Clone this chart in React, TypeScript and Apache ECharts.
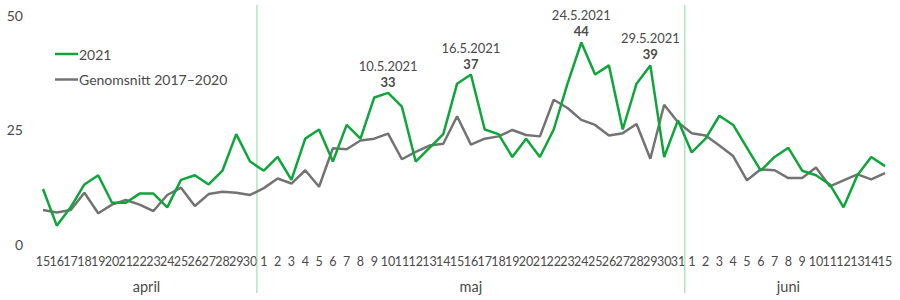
import React, { useEffect, useRef } from "react";
import * as echarts from "echarts";

// ---- data ----
const months = ["april", "maj", "juni"];
const monthNumbers = [4, 5, 6];
const monthFirstDay = [15, 1, 1];
const monthLastDay = [30, 31, 15];

const series2021 = [
  12, 4, 8, 13, 15, 9, 9, 11, 11, 8, 14, 15, 13, 16, 24, 18,
  16, 19, 14, 23, 25, 18, 26, 23, 32, 33, 30, 18, 21, 24, 35, 37,
  25, 24, 19, 23, 19, 25, 35, 44, 37, 39, 25, 35, 39, 19, 27,
  20, 23, 28, 26, 21, 16, 19, 21, 16, 15, 13, 8, 15, 19, 17,
];

const seriesAvg = [
  7.4, 6.9, 7.4, 11.2, 6.7, 8.6, 9.6, 8.6, 7.2, 10.7, 12.3, 8.3, 10.9, 11.4, 11.2, 10.7,
  12.2, 14.3, 13.2, 16.1, 12.5, 20.9, 20.7, 22.6, 23, 24.1, 18.5, 20.1, 21.5, 21.9, 27.9, 21.7,
  23, 23.5, 24.9, 23.8, 23.5, 31.5, 29.7, 27.1, 26, 23.7, 24.2, 26.2, 18.6, 30.4, 26.6,
  24.2, 23.7, 21.5, 19.2, 13.9, 16.3, 16.1, 14.4, 14.4, 16.7, 12.6, 13.9, 15.2, 14.1, 15.5,
];

const peakDates = ["10.5.2021", "16.5.2021", "24.5.2021", "29.5.2021"];

const seriesNames = ["2021", "Genomsnitt 2017–2020"];
const yTicks = { min: 0, max: 50, interval: 25 };

// ---- derived categories ----
const dayLabels: string[] = [];
const dayKeys: string[] = [];
const monthStart: number[] = [];
const monthLen: number[] = [];
months.forEach((_, mi) => {
  monthStart.push(dayLabels.length);
  for (let d = monthFirstDay[mi]; d <= monthLastDay[mi]; d++) {
    dayLabels.push(String(d));
    dayKeys.push(`${d}.${monthNumbers[mi]}.2021`);
  }
  monthLen.push(dayLabels.length - monthStart[mi]);
});
const monthCenters = months.map((_, i) => monthStart[i] + (monthLen[i] - 1) / 2);
const monthBoundaries = monthStart.slice(1).map((s) => s - 0.5);

const FONT = "Lato";
const TEXT = "#4a4a4a";
const GREEN = "#0ea53b";
const GRAY = "#737373";

export default function App() {
  const ref = useRef<HTMLDivElement>(null);

  useEffect(() => {
    if (!ref.current) return;
    const chart = echarts.init(ref.current, undefined, { renderer: "svg" });

    const greenData = series2021.map((v, i) => {
      if (peakDates.includes(dayKeys[i])) {
        return {
          value: v,
          label: {
            show: true,
            position: "top",
            distance: 3,
            formatter: `{d|${dayKeys[i]}}\n{v|${v}}`,
            rich: {
              d: { fontFamily: FONT, fontSize: 13, color: TEXT, lineHeight: 16 },
              v: { fontFamily: FONT, fontSize: 13, fontWeight: "bold", color: TEXT, lineHeight: 16 },
            },
          },
        };
      }
      return v;
    });

    chart.setOption({
      animation: false,
      textStyle: { fontFamily: FONT },
      grid: { left: 43, right: 15, top: 15, bottom: 56 },
      legend: {
        orient: "vertical",
        left: 50,
        top: 42,
        icon: "rect",
        itemWidth: 23,
        itemHeight: 2.5,
        itemGap: 11.5,
        textStyle: { fontFamily: FONT, fontSize: 14, color: TEXT, padding: [0, 0, 0, -4] },
        data: seriesNames,
      },
      xAxis: [
        {
          type: "category",
          data: dayLabels,
          boundaryGap: false,
          axisLine: { show: false },
          axisTick: { show: false },
          axisLabel: { interval: 0, margin: 11, fontSize: 12.5, color: TEXT, fontFamily: FONT },
        },
        {
          type: "value",
          min: 0,
          max: dayLabels.length - 1,
          position: "bottom",
          axisLine: { show: false },
          axisTick: { show: false },
          splitLine: { show: false },
          axisLabel: {
            customValues: monthCenters,
            margin: 35,
            fontSize: 14.5,
            color: TEXT,
            fontFamily: FONT,
            formatter: (val: number) => {
              const idx = monthCenters.findIndex((c) => Math.abs(c - val) < 0.01);
              return idx >= 0 ? months[idx] : "";
            },
          },
        },
      ],
      yAxis: {
        type: "value",
        min: yTicks.min,
        max: yTicks.max,
        interval: yTicks.interval,
        axisLine: { show: false },
        axisTick: { show: false },
        splitLine: { show: false },
        axisLabel: { margin: 20, fontSize: 14, color: TEXT, fontFamily: FONT },
      },
      series: [
        {
          name: seriesNames[0],
          type: "line",
          data: greenData,
          symbol: "circle",
          symbolSize: 0,
          showSymbol: true,
          lineStyle: { color: GREEN, width: 2.5 },
          itemStyle: { color: GREEN },
          z: 3,
        },
        {
          name: seriesNames[1],
          type: "line",
          data: seriesAvg,
          symbol: "none",
          lineStyle: { color: GRAY, width: 2.5 },
          itemStyle: { color: GRAY },
          z: 2,
        },
      ],
    });

    const lines = monthBoundaries.map((b) => {
      const x = chart.convertToPixel({ xAxisIndex: 1 }, b) as number;
      return {
        type: "line",
        shape: { x1: x, y1: 5, x2: x, y2: 293 },
        style: { stroke: "#8fd4a2", lineWidth: 1 },
        z: 1,
      };
    });
    chart.setOption({ graphic: lines });

    return () => chart.dispose();
  }, []);

  return (
    <div
      ref={ref}
      style={{ position: "fixed", left: 0, top: 0, width: 900, height: 300, background: "#fff" }}
    />
  );
}
